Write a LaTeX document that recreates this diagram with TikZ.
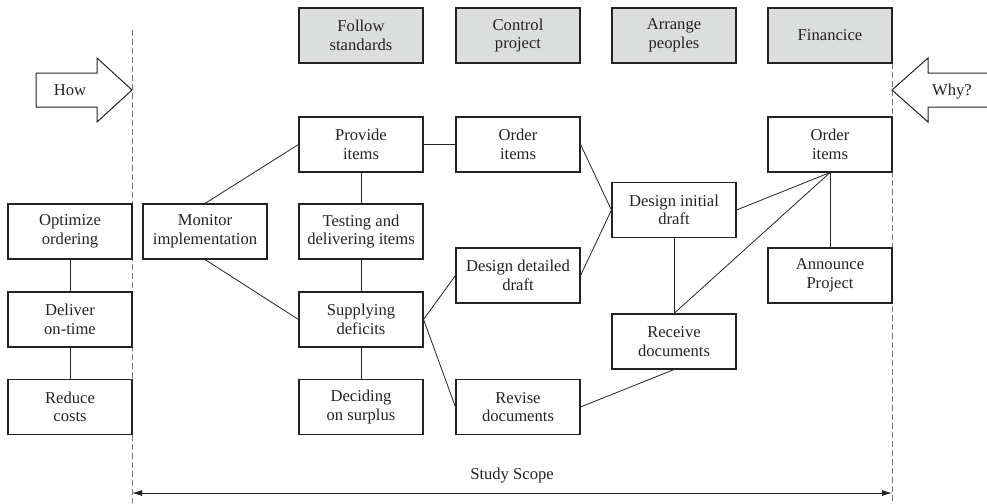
\documentclass[tikz,border=0pt]{standalone}
\usepackage{fontspec}
\setmainfont{Liberation Serif}
\usetikzlibrary{arrows.meta}
\definecolor{ln}{HTML}{232323}
\definecolor{hd}{HTML}{DCDDDD}
\definecolor{dsh}{HTML}{777777}
\begin{document}
\begin{tikzpicture}[x=1pt,y=-1pt,
  box/.style={draw=ln, line width=1.1pt, minimum width=124pt, minimum height=55pt,
    inner sep=0pt, align=center, text=ln, font=\fontsize{16.6}{18.5}\selectfont},
  hdr/.style={box, fill=hd},
  conn/.style={draw=ln, line width=0.8pt},
  scopeline/.style={draw=dsh, line width=0.9pt, dash pattern=on 6pt off 3pt},
  bigarrow/.style={draw=ln, line width=1pt, fill=white, line join=miter},
  lbl/.style={text=ln, font=\fontsize{16.6}{18.5}\selectfont, inner sep=0pt}
]
\useasboundingbox (0,0) rectangle (987,503);
% scope lines
\coordinate (lt) at (132,30);
\coordinate (lb) at (132,503);
\coordinate (rt) at (892,63);
\coordinate (rb) at (892,503);
\draw[scopeline] (lt) -- (lb);
\draw[scopeline] (rt) -- (rb);

% header boxes
\node[hdr] (h1) at (361,35.5) {Follow\\standards};
\node[hdr] (h2) at (518,35.5) {Control\\project};
\node[hdr] (h3) at (674,35.5) {Arrange\\peoples};
\node[hdr] (h4) at (830,35.5) {Financice};

% big arrows
\draw[bigarrow] (36,73) -- (97,73) -- (97,58) -- (132,90) -- (97,122) -- (97,107) -- (36,107) -- cycle;
\node[lbl] (how) at (70,90) {How};
\draw[bigarrow] (892,90) -- (928,58) -- (928,73) -- (990,73) -- (990,107) -- (928,107) -- (928,122) -- cycle;
\node[lbl, anchor=base] (why) at (952,95.5) {Why?};

% left column
\node[box] (opt) at (70,231.5) {Optimize\\ordering};
\node[box] (del) at (70,319.5) {Deliver\\on-time};
\node[box] (red) at (70,407) {Reduce\\costs};

% main nodes
\node[box] (mon) at (205,231.5) {Monitor\\implementation};
\node[box] (prov) at (361,144.5) {Provide\\items};
\node[box] (test) at (361,231.5) {Testing and\\delivering items};
\node[box] (sup) at (361,319.5) {Supplying\\deficits};
\node[box] (dec) at (361,407) {Deciding\\on surplus};
\node[box] (ord1) at (518,144.5) {Order\\items};
\node[box] (ddd) at (518,275.5) {Design detailed\\draft};
\node[box] (rev) at (518,407) {Revise\\documents};
\node[box] (dia) at (674,210) {Design initial\\draft};
\node[box] (rec) at (674,341.5) {Receive\\documents};
\node[box] (ord2) at (830,144.5) {Order\\items};
\node[box] (ann) at (830,275.5) {Announce\\Project};

% connectors
\draw[conn] (opt) -- (del);
\draw[conn] (del) -- (red);
\draw[conn] (mon.north) -- (prov.west);
\draw[conn] (mon.south) -- (sup.west);
\draw[conn] (prov) -- (test);
\draw[conn] (test) -- (sup);
\draw[conn] (sup) -- (dec);
\draw[conn] (prov.east) -- (ord1.west);
\draw[conn] (sup.east) -- (ddd.west);
\draw[conn] (sup.east) -- (rev.west);
\draw[conn] (ord1.east) -- (dia.west);
\draw[conn] (ddd.east) -- (dia.west);
\draw[conn] (dia.south) -- (rec.north);
\draw[conn] (rec.south) -- (rev.east);
\draw[conn] (ord2.south) -- (dia.east);
\draw[conn] (ord2.south) -- (rec.north);
\draw[conn] (ord2.south) -- (ann.north);

% study scope
\coordinate (sl) at (132,493);
\coordinate (sr) at (892,493);
\draw[draw=ln, line width=0.9pt, {Latex[length=10pt,width=6pt]}-{Latex[length=10pt,width=6pt]}] (sl) -- (sr);
\node[lbl] (ss) at (512,476) {Study Scope};
\end{tikzpicture}
\end{document}
